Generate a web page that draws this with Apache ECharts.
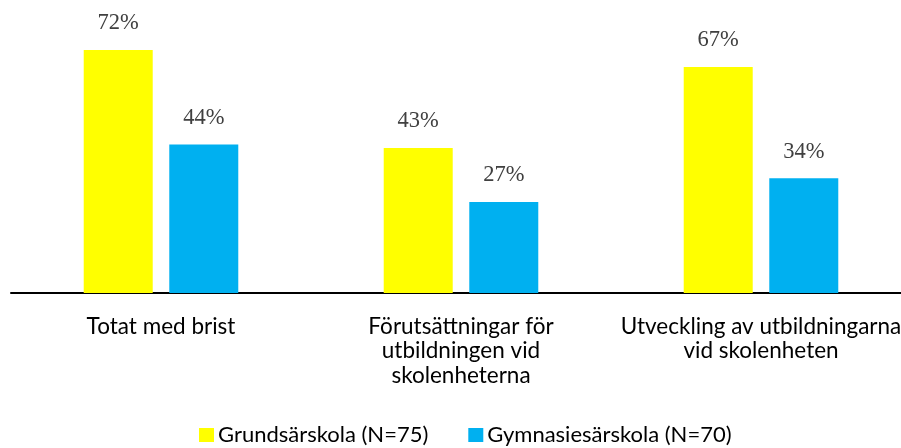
<!DOCTYPE html>
<html><head><meta charset="utf-8">
<script src="https://cdn.jsdelivr.net/npm/echarts@6/dist/echarts.min.js"></script>
<style>html,body{margin:0;padding:0;background:#fff;overflow:hidden}#c{width:911px;height:448px}</style>
</head><body><div id="c"></div>
<script>
const categories = ["Totat med brist", "Förutsättningar för\nutbildningen vid\nskolenheterna", "Utveckling av utbildningarna\nvid skolenheten"];
const seriesNames = ["Grundsärskola (N=75)", "Gymnasiesärskola (N=70)"];
const grundsarskola = [72, 43, 67];
const gymnasiesarskola = [44, 27, 34];

const chart = echarts.init(document.getElementById('c'), null, {renderer: 'canvas'});
const labelStyle = {show: true, position: 'top', distance: 15, formatter: '{c}%', color: '#404040', fontFamily: 'Liberation Serif, DejaVu Serif, serif', fontSize: 22.5};
chart.setOption({
  animation: false,
  grid: {left: 11, right: 0, top: 23, bottom: 155, containLabel: false},
  legend: {
    top: 419, left: 194, itemWidth: 15, itemHeight: 14, itemGap: 40,
    icon: 'rect',
    textStyle: {fontFamily: 'Lato, Open Sans, sans-serif', fontSize: 22, color: '#000', padding: [0,0,0,-1]},
    data: seriesNames
  },
  xAxis: {
    type: 'category', data: categories,
    axisLine: {lineStyle: {color: '#000', width: 2}},
    axisTick: {show: false},
    axisLabel: {interval: 0, margin: 21, lineHeight: 24.5, fontFamily: 'Lato, Open Sans, sans-serif', fontSize: 22.5, color: '#000'}
  },
  yAxis: {type: 'value', min: 0, max: 80, show: false, splitLine: {show: false}},
  series: [
    {name: seriesNames[0], type: 'bar', data: grundsarskola, barWidth: 69, barGap: '24%', itemStyle: {color: '#FFFF00'}, label: labelStyle},
    {name: seriesNames[1], type: 'bar', data: gymnasiesarskola, barWidth: 69, barGap: '24%', itemStyle: {color: '#00B0F0'}, label: labelStyle}
  ]
});
</script></body></html>
